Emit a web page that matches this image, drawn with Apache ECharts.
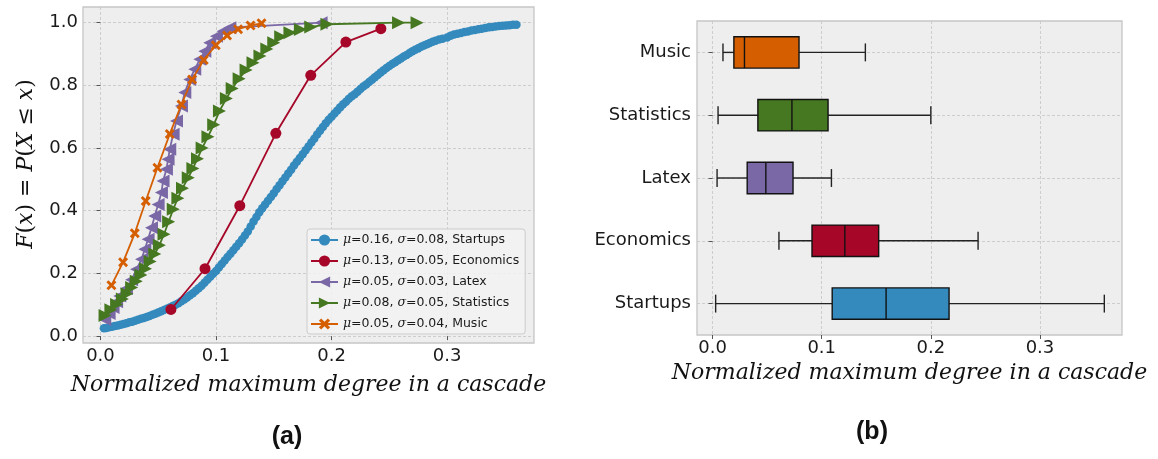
<!DOCTYPE html>
<html>
<head>
<meta charset="utf-8">
<script src="https://cdn.jsdelivr.net/npm/echarts@6/dist/echarts.min.js"></script>
<style>
  html, body { margin: 0; padding: 0; background: #ffffff; }
  #chart { width: 1158px; height: 459px; }
</style>
</head>
<body>
<div id="chart"></div>
<script>
// ---- data ----------------------------------------------------------------
const categories = ['Startups', 'Economics', 'Latex', 'Statistics', 'Music'];
const colors = ['#348ABD', '#A60628', '#7A68A6', '#467821', '#D55E00'];
const means = [0.16, 0.13, 0.05, 0.08, 0.05];
const stds = [0.08, 0.05, 0.03, 0.05, 0.04];

// empirical CDF points [normalized max degree, F(x)]
const startupsCdf = [
  [0.003, 0.025], [0.005, 0.026], [0.0075, 0.028], [0.010, 0.030], [0.0125, 0.032],
  [0.015, 0.034], [0.0175, 0.036], [0.020, 0.039], [0.0225, 0.041], [0.025, 0.044],
  [0.0275, 0.046], [0.030, 0.049], [0.0325, 0.052], [0.035, 0.055], [0.0375, 0.058],
  [0.040, 0.061], [0.0425, 0.064], [0.045, 0.068], [0.0475, 0.071], [0.050, 0.075],
  [0.0525, 0.079], [0.055, 0.083], [0.0575, 0.087], [0.060, 0.091], [0.0625, 0.096],
  [0.065, 0.100], [0.0675, 0.105], [0.070, 0.111], [0.0725, 0.117], [0.075, 0.123],
  [0.0775, 0.130], [0.080, 0.137], [0.0825, 0.145], [0.085, 0.153], [0.0875, 0.161],
  [0.090, 0.170], [0.0925, 0.180], [0.095, 0.189], [0.0975, 0.199], [0.100, 0.208],
  [0.1025, 0.219], [0.105, 0.230], [0.1075, 0.241], [0.110, 0.252], [0.1125, 0.263],
  [0.115, 0.274], [0.1175, 0.285], [0.120, 0.296], [0.1225, 0.308], [0.125, 0.321],
  [0.1275, 0.334], [0.130, 0.350], [0.1325, 0.366], [0.135, 0.380], [0.1375, 0.395],
  [0.140, 0.408], [0.1425, 0.420], [0.145, 0.432], [0.1475, 0.444], [0.150, 0.456],
  [0.1525, 0.469], [0.155, 0.481], [0.1575, 0.494], [0.160, 0.506], [0.1625, 0.519],
  [0.165, 0.531], [0.1675, 0.544], [0.170, 0.556], [0.1725, 0.568], [0.175, 0.580],
  [0.1775, 0.593], [0.180, 0.605], [0.1825, 0.618], [0.185, 0.630], [0.1875, 0.643],
  [0.190, 0.655], [0.1925, 0.667], [0.195, 0.679], [0.1975, 0.690], [0.200, 0.700],
  [0.2025, 0.710], [0.205, 0.720], [0.2075, 0.730], [0.210, 0.740], [0.2125, 0.748],
  [0.215, 0.757], [0.2175, 0.765], [0.220, 0.772], [0.2225, 0.780], [0.225, 0.788],
  [0.2275, 0.796], [0.230, 0.803], [0.2325, 0.811], [0.235, 0.818], [0.2375, 0.826],
  [0.240, 0.833], [0.2425, 0.841], [0.245, 0.848], [0.2475, 0.855], [0.250, 0.862],
  [0.2525, 0.868], [0.255, 0.874], [0.2575, 0.880], [0.260, 0.886], [0.2625, 0.892],
  [0.265, 0.897], [0.2675, 0.903], [0.270, 0.909], [0.2725, 0.914], [0.275, 0.918],
  [0.2775, 0.923], [0.280, 0.927], [0.2825, 0.931], [0.285, 0.935], [0.2875, 0.939],
  [0.290, 0.942], [0.293, 0.946], [0.296, 0.949], [0.300, 0.953], [0.303, 0.958],
  [0.306, 0.962], [0.309, 0.965], [0.312, 0.967], [0.315, 0.970], [0.318, 0.972],
  [0.321, 0.975], [0.324, 0.977], [0.327, 0.979], [0.330, 0.981], [0.333, 0.983],
  [0.336, 0.985], [0.339, 0.986], [0.342, 0.988], [0.345, 0.989], [0.348, 0.990],
  [0.351, 0.991], [0.354, 0.992], [0.357, 0.993], [0.360, 0.993]
];
const economicsCdf = [
  [0.061, 0.085], [0.0905, 0.215], [0.1206, 0.416], [0.1518, 0.647],
  [0.182, 0.832], [0.2124, 0.938], [0.2427, 0.981]
];
const latexCdf = [
  [0.0037, 0.053], [0.0075, 0.072], [0.0109, 0.091], [0.014, 0.110], [0.0167, 0.128],
  [0.0225, 0.152], [0.027, 0.180], [0.0312, 0.213], [0.0355, 0.245], [0.0384, 0.277],
  [0.0412, 0.309], [0.0442, 0.346], [0.047, 0.383], [0.0499, 0.420], [0.0528, 0.458],
  [0.0542, 0.495], [0.0571, 0.532], [0.0585, 0.564], [0.060, 0.596], [0.0629, 0.644],
  [0.0658, 0.686], [0.0701, 0.734], [0.073, 0.777], [0.0773, 0.819], [0.0816, 0.851],
  [0.086, 0.883], [0.0903, 0.909], [0.0946, 0.936], [0.1004, 0.957], [0.1061, 0.973],
  [0.112, 0.984], [0.191, 1.0]
];
const statisticsCdf = [
  [0.004, 0.066], [0.009, 0.084], [0.014, 0.101], [0.019, 0.118], [0.023, 0.135],
  [0.027, 0.155], [0.031, 0.175], [0.035, 0.195], [0.039, 0.215], [0.043, 0.238],
  [0.047, 0.262], [0.051, 0.290], [0.055, 0.325], [0.059, 0.365], [0.063, 0.405],
  [0.067, 0.440], [0.071, 0.472], [0.076, 0.505], [0.080, 0.535], [0.084, 0.566],
  [0.088, 0.600], [0.093, 0.636], [0.098, 0.674], [0.103, 0.718], [0.109, 0.758],
  [0.114, 0.790], [0.120, 0.821], [0.126, 0.849], [0.132, 0.872], [0.138, 0.894],
  [0.144, 0.916], [0.150, 0.936], [0.156, 0.955], [0.164, 0.968], [0.173, 0.978],
  [0.182, 0.986], [0.196, 0.995], [0.258, 1.0], [0.274, 1.0]
];
const musicCdf = [
  [0.0095, 0.162], [0.0196, 0.236], [0.0297, 0.328], [0.0392, 0.431], [0.0493, 0.537],
  [0.060, 0.645], [0.0701, 0.739], [0.0793, 0.819], [0.0894, 0.881], [0.0998, 0.928],
  [0.1096, 0.959], [0.1191, 0.979], [0.1299, 0.991], [0.1394, 0.998]
];

// box statistics per category: [low whisker, Q1, median, Q3, high whisker]
const startupsBox   = [0.0028, 0.1096, 0.1590, 0.2167, 0.3590];
const economicsBox  = [0.0608, 0.0911, 0.1212, 0.1522, 0.2433];
const latexBox      = [0.0041, 0.0317, 0.0488, 0.0737, 0.1089];
const statisticsBox = [0.0050, 0.0415, 0.0727, 0.1058, 0.2000];
const musicBox      = [0.0095, 0.0195, 0.0292, 0.0792, 0.1400];

const xTicks = [0, 0.1, 0.2, 0.3];
const cdfTicks = [0, 0.2, 0.4, 0.6, 0.8, 1.0];
const boxPositions = [1, 2, 3, 4, 5];

const xTitle = 'Normalized maximum degree in a cascade';

// ---- styling helpers -----------------------------------------------------
const tickFont = { fontFamily: 'DejaVu Sans', fontSize: 18, color: '#1a1a1a' };
const gridLine = { show: true, lineStyle: { color: '#c4c4c4', width: 0.8, type: [3, 2] } };
const tickMark = { show: true, inside: false, length: 4, lineStyle: { color: '#555555', width: 1 } };

const symbols = [
  'circle',
  'circle',
  'path://M0,5L10,0L10,10Z',        // left-pointing triangle
  'path://M10,5L0,0L0,10Z',         // right-pointing triangle
  'path://M0,2L2,0L5,3L8,0L10,2L7,5L10,8L8,10L5,7L2,10L0,8L3,5Z'  // x marker
];
const symbolSizes = [8.5, 11, 13, 13, 10];
const cdfData = [startupsCdf, economicsCdf, latexCdf, statisticsCdf, musicCdf];
const boxData = [startupsBox, economicsBox, latexBox, statisticsBox, musicBox];

const lineSeries = categories.map((name, i) => ({
  type: 'line',
  name: name,
  xAxisIndex: 0,
  yAxisIndex: 0,
  data: cdfData[i],
  symbol: symbols[i],
  symbolSize: symbolSizes[i],
  showAllSymbol: true,
  lineStyle: { color: colors[i], width: 1.8 },
  itemStyle: { color: colors[i], borderWidth: 0 },
  emphasis: { disabled: true },
  z: 2 + i
}));

const boxSeries = {
  type: 'custom',
  name: 'box',
  xAxisIndex: 1,
  yAxisIndex: 1,
  encode: { x: [1, 2, 3, 4, 5], y: 0 },
  data: boxData.map((b, i) => [boxPositions[i]].concat(b)),
  renderItem: function (params, api) {
    const pos = api.value(0);
    const pts = [1, 2, 3, 4, 5].map(k => api.coord([api.value(k), pos]));
    const yc = pts[0][1];
    const half = api.size([0, 0.25])[1];
    const cap = half * 0.57;
    const ls = { stroke: '#222222', lineWidth: 1.4, fill: null };
    return {
      type: 'group',
      children: [
        { type: 'line', shape: { x1: pts[0][0], y1: yc, x2: pts[1][0], y2: yc }, style: ls },
        { type: 'line', shape: { x1: pts[3][0], y1: yc, x2: pts[4][0], y2: yc }, style: ls },
        { type: 'line', shape: { x1: pts[0][0], y1: yc - cap, x2: pts[0][0], y2: yc + cap }, style: ls },
        { type: 'line', shape: { x1: pts[4][0], y1: yc - cap, x2: pts[4][0], y2: yc + cap }, style: ls },
        { type: 'rect',
          shape: { x: pts[1][0], y: yc - half, width: pts[3][0] - pts[1][0], height: 2 * half },
          style: { fill: colors[params.dataIndex], stroke: '#111111', lineWidth: 1.4 } },
        { type: 'line', shape: { x1: pts[2][0], y1: yc - half, x2: pts[2][0], y2: yc + half },
          style: { stroke: '#111111', lineWidth: 1.4 } }
      ]
    };
  }
};

const chart = echarts.init(document.getElementById('chart'), null, { renderer: 'canvas' });

chart.setOption({
  animation: false,
  backgroundColor: '#ffffff',
  grid: [
    { left: 83, top: 7, width: 451, height: 336, show: true, backgroundColor: '#eeeeee',
      borderColor: '#c6c6c6', borderWidth: 1.3, outerBoundsMode: 'none', containLabel: false },
    { left: 697, top: 21, width: 425, height: 314, show: true, backgroundColor: '#eeeeee',
      borderColor: '#c6c6c6', borderWidth: 1.3, outerBoundsMode: 'none', containLabel: false }
  ],
  xAxis: [
    { type: 'value', gridIndex: 0, min: -0.0151, max: 0.3752,
      axisLine: { show: false }, axisTick: Object.assign({ customValues: xTicks }, tickMark),
      axisLabel: Object.assign({ customValues: xTicks, margin: 4, formatter: v => v.toFixed(1) }, tickFont),
      splitLine: gridLine,
      name: xTitle, nameLocation: 'middle', nameGap: 31,
      nameTextStyle: { fontFamily: 'DejaVu Serif', fontStyle: 'italic', fontSize: 22, color: '#111111' } },
    { type: 'value', gridIndex: 1, min: -0.0143, max: 0.3752,
      axisLine: { show: false }, axisTick: Object.assign({ customValues: xTicks }, tickMark),
      axisLabel: Object.assign({ customValues: xTicks, margin: 4, formatter: v => v.toFixed(1) }, tickFont),
      splitLine: gridLine,
      name: xTitle, nameLocation: 'middle', nameGap: 24,
      nameTextStyle: { fontFamily: 'DejaVu Serif', fontStyle: 'italic', fontSize: 22, color: '#111111' } }
  ],
  yAxis: [
    { type: 'value', gridIndex: 0, min: -0.022, max: 1.05,
      axisLine: { show: false }, axisTick: Object.assign({ customValues: cdfTicks }, tickMark),
      axisLabel: Object.assign({ customValues: cdfTicks, margin: 5, formatter: v => v.toFixed(1) }, tickFont),
      splitLine: gridLine,
      name: '{i|F}({i|x}) = {i|P}({i|X} ≤ {i|x})', nameLocation: 'middle', nameGap: 46,
      nameTextStyle: { fontFamily: 'DejaVu Serif', fontSize: 22, color: '#111111', padding: [0, 0, 0, 22],
        rich: { i: { fontFamily: 'DejaVu Serif', fontStyle: 'italic', fontSize: 22, color: '#111111' } } } },
    { type: 'value', gridIndex: 1, min: 0.5, max: 5.5,
      axisLine: { show: false }, axisTick: Object.assign({ customValues: boxPositions }, tickMark),
      axisLabel: Object.assign({ customValues: boxPositions, margin: 6,
        formatter: v => categories[Math.round(v) - 1] }, tickFont),
      splitLine: gridLine }
  ],
  legend: {
    orient: 'vertical',
    left: 307, top: 229,
    itemWidth: 27, itemHeight: 14, itemGap: 7,
    padding: [4, 6, 3, 3],
    backgroundColor: 'rgba(242,242,242,0.85)',
    borderColor: '#cccccc', borderWidth: 1, borderRadius: 3,
    data: categories,
    selectedMode: false,
    textStyle: {
      fontFamily: 'DejaVu Sans', fontSize: 12.5, color: '#1a1a1a', lineHeight: 14,
      rich: { m: { fontFamily: 'DejaVu Serif', fontStyle: 'italic', fontSize: 12.5, color: '#1a1a1a' } }
    },
    formatter: function (name) {
      const i = categories.indexOf(name);
      return '{m|μ}=' + means[i].toFixed(2) + ', {m|σ}=' + stds[i].toFixed(2) + ', ' + name;
    }
  },
  graphic: [
    { type: 'text', x: 287, y: 437,
      style: { text: '(a)', fontFamily: 'Liberation Sans', fontWeight: 'bold', fontSize: 25,
        fill: '#111111', align: 'center', verticalAlign: 'middle' } },
    { type: 'text', x: 872, y: 432,
      style: { text: '(b)', fontFamily: 'Liberation Sans', fontWeight: 'bold', fontSize: 25,
        fill: '#111111', align: 'center', verticalAlign: 'middle' } }
  ],
  series: lineSeries.concat([boxSeries])
});
</script>
</body>
</html>
